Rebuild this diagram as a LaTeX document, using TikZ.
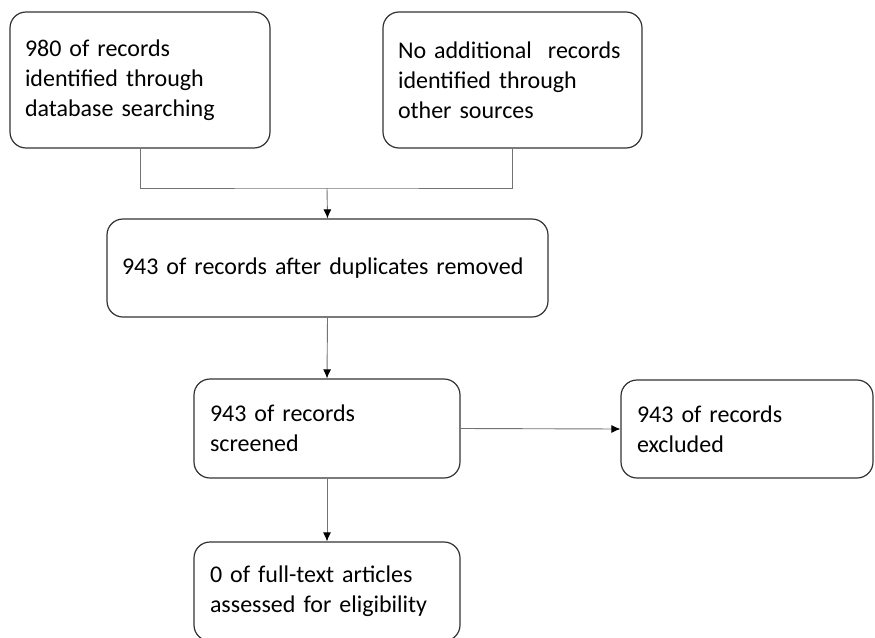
\documentclass[tikz,border=0pt]{standalone}
\usepackage{fontspec}
\setmainfont{Carlito}
\usetikzlibrary{arrows.meta}
\tikzset{
  box/.style={draw=black!80, line width=1.2pt, rounded corners=16pt, fill=white,
    inner sep=0pt, align=left, font=\fontsize{24}{30}\selectfont},
  link/.style={draw=black!55, line width=0.9pt},
  arr/.style={link, -{Latex[length=9pt,width=8pt,black]}}
}
\begin{document}
\begin{tikzpicture}[x=1pt,y=-1pt]
\useasboundingbox (0,0) rectangle (875,637);
\begin{scope}
\clip (0,0) rectangle (875,637);
\node[box, minimum width=260pt, minimum height=136pt, text width=230pt] (b1) at (140,80)
  {980 of records\\identified through\\database searching};
\node[box, minimum width=259pt, minimum height=136pt, text width=229pt] (b2) at (512.5,80)
  {No additional\ \ records\\identified through\\other sources};
\node[box, minimum width=441pt, minimum height=98pt, text width=411pt] (b3) at (327.5,268)
  {943 of records after duplicates removed};
\node[box, minimum width=266pt, minimum height=99pt, text width=234pt] (b4) at (327,428.5)
  {943 of records\\screened};
\node[box, minimum width=252pt, minimum height=98pt, text width=220pt] (b5) at (747,429)
  {943 of records\\excluded};
\node[box, minimum width=266pt, minimum height=99pt, text width=234pt] (b6) at (327,591.5)
  {0 of full-text articles\\assessed for eligibility};
\coordinate (j) at (327,188);
\draw[link] (b1.south) |- (j) -| (b2.south);
\draw[arr] (j) -- (b3.north);
\draw[arr] (b3.south) -- (b4.north);
\draw[arr] (b4.east) -- (b5.west);
\draw[arr] (b4.south) -- (b6.north);
\end{scope}
\end{tikzpicture}
\end{document}
